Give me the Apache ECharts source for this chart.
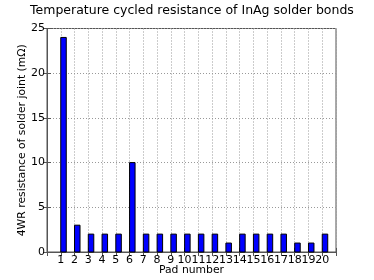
<!DOCTYPE html>
<html>
<head>
<meta charset="utf-8">
<script src="https://cdn.jsdelivr.net/npm/echarts@6/dist/echarts.min.js"></script>
<style>html,body{margin:0;padding:0;background:#fff}#c{width:374px;height:280px}</style>
</head>
<body>
<div id="c"></div>
<script>
var pads = [1,2,3,4,5,6,7,8,9,10,11,12,13,14,15,16,17,18,19,20];
var resistance = [24,3,2,2,2,10,2,2,2,2,2,2,1,2,2,2,2,1,1,2];
var yTicks = [0,5,10,15,20,25];

var FONT = 'DejaVu Sans';
var barW = 0.4;
var AX = '#555';
var chart = echarts.init(document.getElementById('c'), null, {renderer:'canvas'});
var dotted = {show:true, lineStyle:{color:'#999', type:[1,2], width:1}};
chart.setOption({
  animation:false,
  title:{text:'Temperature cycled resistance of InAg solder bonds', left:30, top:0,
    padding:[4,0,4,0],
    textStyle:{fontFamily:FONT, fontSize:12.5, fontWeight:'normal', color:'#000'}},
  grid:{left:47, right:38, top:28.5, bottom:28, show:true, borderColor:AX, borderWidth:1,
    outerBoundsMode:'none', containLabel:false},
  xAxis:[{type:'value', min:0, max:21, interval:1,
    name:'Pad number', nameLocation:'middle', nameGap:13, nameMoveOverlap:false,
    nameTextStyle:{fontFamily:FONT, fontSize:10.8, color:'#000'},
    axisLine:{show:true, lineStyle:{color:AX}},
    axisTick:{show:true, inside:true, length:4, lineStyle:{color:AX}},
    axisLabel:{fontFamily:FONT, fontSize:11, color:'#000', margin:3,
      formatter:function(v){return pads.indexOf(v)>=0 ? String(v) : '';}},
    splitLine:dotted},
    {type:'value', position:'top', min:0, max:21, interval:1,
    axisLine:{show:false}, axisLabel:{show:false}, splitLine:{show:false},
    axisTick:{show:true, inside:true, length:4, lineStyle:{color:AX}}}],
  yAxis:[{type:'value', min:0, max:25, interval:5,
    name:'4WR resistance of solder joint (m\u03a9)', nameLocation:'middle', nameGap:19, nameMoveOverlap:false,
    nameTextStyle:{fontFamily:FONT, fontSize:10.8, color:'#000'},
    axisLine:{show:true, lineStyle:{color:AX}},
    axisTick:{show:true, inside:true, length:4, lineStyle:{color:AX}},
    axisLabel:{fontFamily:FONT, fontSize:11, color:'#000', margin:2,
      formatter:function(v){return yTicks.indexOf(v)>=0 ? String(v) : '';}},
    splitLine:dotted},
    {type:'value', position:'right', min:0, max:25, interval:5,
    axisLine:{show:false}, axisLabel:{show:false}, splitLine:{show:false},
    axisTick:{show:true, inside:true, length:4, lineStyle:{color:AX}}}],
  series:[{type:'custom',
    data: pads.map(function(p,i){return [p, resistance[i]];}),
    renderItem:function(params, api){
      var x = api.value(0), y = api.value(1);
      var p0 = api.coord([x, y]);
      var p1 = api.coord([x + barW, 0]);
      return {type:'rect', shape:{x:p0[0], y:p0[1], width:p1[0]-p0[0], height:p1[1]-p0[1]},
        style:{fill:'#0000ff', stroke:'#000', lineWidth:1}};
    }}]
});
</script>
</body>
</html>
